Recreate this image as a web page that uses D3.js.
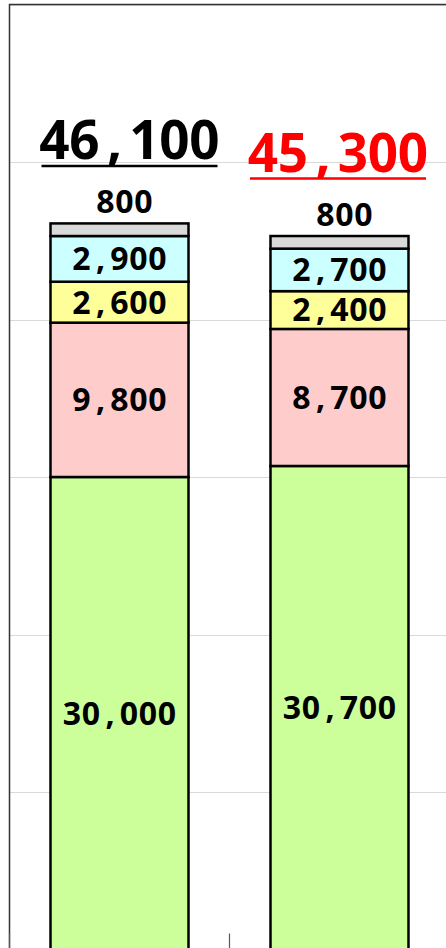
<!DOCTYPE html>
<html>
<head>
<meta charset="utf-8">
<script src="https://cdn.jsdelivr.net/npm/d3@7"></script>
<style>
  html, body { margin: 0; padding: 0; background: #fff; overflow: hidden; }
  svg { display: block; }
  text { font-family: "Noto Sans", sans-serif; font-weight: 700; }
</style>
</head>
<body>
<svg id="chart" width="446" height="948"></svg>
<script>
(function() {
    // data, bottom segment first
    const categories = ["col1", "col2"];
    const seriesKeys = ["green", "pink", "yellow", "cyan", "gray"];
    const greenValues = [30000, 30700];
    const pinkValues = [9800, 8700];
    const yellowValues = [2600, 2400];
    const cyanValues = [2900, 2700];
    const grayValues = [800, 800];
    const gridTicks = [10000, 20000, 30000, 40000, 50000, 60000];

    const seriesValues = {
        green: greenValues, pink: pinkValues, yellow: yellowValues,
        cyan: cyanValues, gray: grayValues
    };
    const fills = {
        green: "#ccff99", pink: "#ffcccc", yellow: "#ffff99",
        cyan: "#ccffff", gray: "#d9d9d9"
    };
    const totalColors = ["#000000", "#ff0000"];
    const totalShift = [10, -1.5];

    const rows = categories.map((c, i) => {
        const row = { cat: c };
        seriesKeys.forEach(k => row[k] = seriesValues[k][i]);
        row.total = d3.sum(seriesKeys, k => seriesValues[k][i]);
        return row;
    });

    const plot = { left: 9.5, right: 449.5, top: 4.5, bottom: 949.5 };

    const x = d3.scaleBand()
        .domain(categories)
        .range([plot.left, plot.right])
        .paddingInner(0.3727)
        .paddingOuter(0.1864);

    const y = d3.scaleLinear()
        .domain([0, 60000])
        .range([plot.bottom, plot.top]);

    const svg = d3.select("#chart");

    // gridlines
    svg.append("g")
        .selectAll("line")
        .data(gridTicks)
        .enter().append("line")
        .attr("x1", plot.left)
        .attr("x2", plot.right)
        .attr("y1", d => Math.round(y(d)) + 0.5)
        .attr("y2", d => Math.round(y(d)) + 0.5)
        .attr("stroke", "#d9d9d9")
        .attr("stroke-width", 1);

    // frame
    svg.append("path")
        .attr("d", `M${plot.left},${plot.bottom}V${plot.top}H${plot.right}`)
        .attr("fill", "none")
        .attr("stroke", "#333")
        .attr("stroke-width", 1.5);

    // category ticks
    const step = x.step();
    svg.append("g")
        .selectAll("line")
        .data(d3.range(categories.length + 1))
        .enter().append("line")
        .attr("x1", i => plot.left + i * step)
        .attr("x2", i => plot.left + i * step)
        .attr("y1", y(0))
        .attr("y2", y(0) - 16)
        .attr("stroke", "#595959")
        .attr("stroke-width", 1.2);

    const stacked = d3.stack().keys(seriesKeys)(rows);

    const layers = svg.append("g")
        .selectAll("g")
        .data(stacked)
        .enter().append("g")
        .attr("fill", d => fills[d.key]);

    layers.selectAll("rect")
        .data(d => d)
        .enter().append("rect")
        .attr("x", d => x(d.data.cat))
        .attr("width", x.bandwidth())
        .attr("y", d => y(d[1]))
        .attr("height", d => y(d[0]) - y(d[1]))
        .attr("stroke", "#000")
        .attr("stroke-width", 2.5);

    // labels drawn with fixed cell per character
    function cellText(sel, str, cx, baseline, cell) {
        const n = str.length;
        const xs = str.split("").map((ch, i) => cx + (i - (n - 1) / 2) * cell);
        sel.attr("x", xs.join(" ")).attr("y", baseline).text(str);
    }

    const fmt = d3.format(",");
    const small = 32;
    const smallCell = 19;

    stacked.forEach(layer => {
        layer.forEach(d => {
            const cx = x(d.data.cat) + x.bandwidth() / 2;
            const label = fmt(d.data[layer.key]);
            const t = svg.append("text")
                .attr("text-anchor", "middle")
                .attr("font-size", small)
                .attr("fill", "#000");
            if (layer.key === "gray") {
                cellText(t, label, cx + 5, y(d[1]) - 10, smallCell);
            } else {
                const mid = (y(d[0]) + y(d[1])) / 2;
                cellText(t, label, cx, mid + 0.357 * small, smallCell);
            }
        });
    });

    // totals
    const big = 53;
    const bigCell = 30;
    rows.forEach((r, i) => {
        const cx = x(r.cat) + x.bandwidth() / 2 + totalShift[i];
        const base = y(r.total) - 64;
        const label = fmt(r.total);
        const t = svg.append("text")
            .attr("text-anchor", "middle")
            .attr("font-size", big)
            .attr("fill", totalColors[i]);
        cellText(t, label, cx, base, bigCell);
        const half = label.length * bigCell / 2 - 2;
        svg.append("line")
            .attr("x1", cx - half)
            .attr("x2", cx + half)
            .attr("y1", base + 6.5)
            .attr("y2", base + 6.5)
            .attr("stroke", totalColors[i])
            .attr("stroke-width", 2.5);
    });
})();
</script>
</body>
</html>
